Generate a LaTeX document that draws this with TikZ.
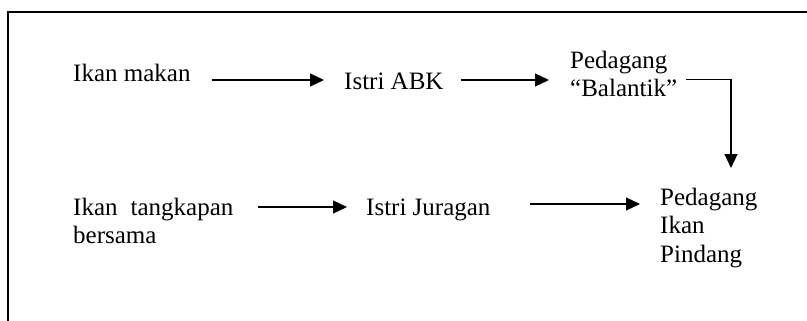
\documentclass[tikz,border=0pt]{standalone}
\usepackage{fontspec}
\setmainfont{Liberation Serif}
\usetikzlibrary{arrows.meta}
\begin{document}
\begin{tikzpicture}[x=1pt,y=-1pt,
  lbl/.style={inner sep=0pt, anchor=base west, font=\fontsize{25}{28.5}\selectfont},
  arr/.style={line width=1.2pt, -{Triangle[length=14pt,width=13pt]}},
  frame/.style={line width=1.3pt, line join=miter}]
\useasboundingbox (0,0) rectangle (807,321);
% open frame: only the left and top edges fall inside the page
\draw[frame] (8,340) -- (8,12) -- (830,12);

% labels, one node per printed line
\node[lbl] (im)   at (73,81.7)  {Ikan makan};
\node[lbl] (abk)  at (344,90)   {Istri ABK};
\node[lbl] (bal)  at (570,68.3) {Pedagang};
\node[lbl] (bal2) at (570,96.7) {“Balantik”};
\node[lbl] (itb)  at (73,215)   {Ikan\hspace{13pt}tangkapan};
\node[lbl] (itb2) at (73,243)   {bersama};
\node[lbl] (jur)  at (366,215)  {Istri Juragan};
\node[lbl] (pip)  at (660,205)  {Pedagang};
\node[lbl] (pip2) at (660,233.5){Ikan};
\node[lbl] (pip3) at (660,262)  {Pindang};

% flow arrows
\coordinate (bend) at (731,79.3);
\draw[arr, shorten <=21pt, shorten >=20pt] (im.east |- 0,80) -- (abk.west |- 0,80);
\draw[arr, shorten <=17pt, shorten >=21pt] (abk.east |- 0,80) -- (bal.west |- 0,80);
\draw[arr] ([xshift=9pt]bal2.east |- bend) -- (bend) -- (bend |- 0,168);
\draw[arr, shorten <=24pt, shorten >=19pt] (itb.east |- 0,207) -- (jur.west |- 0,207);
\draw[arr, shorten <=39pt, shorten >=20pt] (jur.east |- 0,204) -- (pip.west |- 0,204);
\end{tikzpicture}
\end{document}
